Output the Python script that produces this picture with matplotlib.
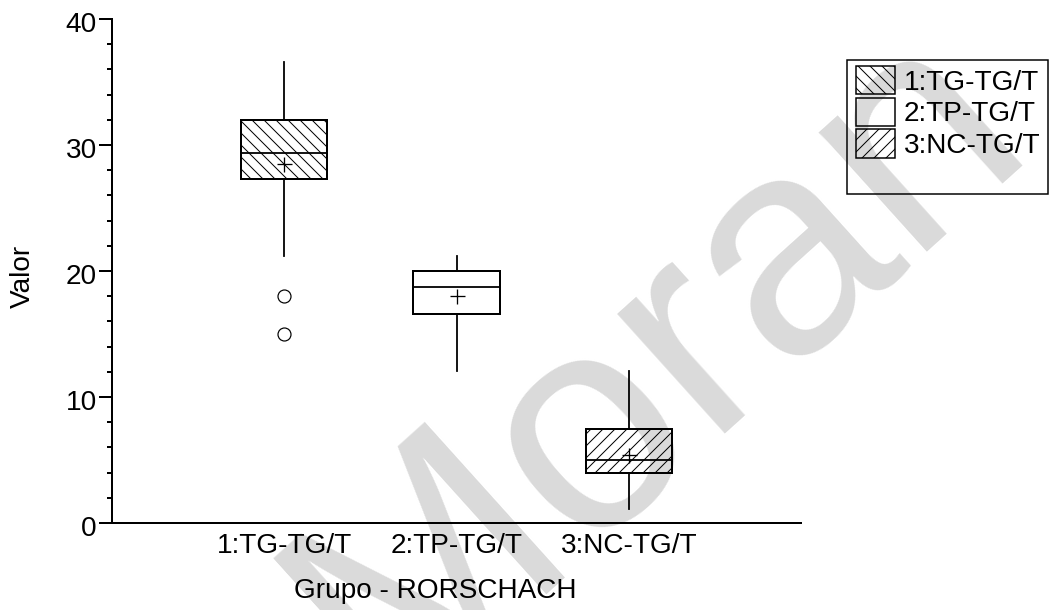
import matplotlib
matplotlib.use("Agg")
import matplotlib.pyplot as plt
from matplotlib.patches import Rectangle, Patch
from matplotlib.ticker import MultipleLocator, FixedLocator
from matplotlib.transforms import ScaledTranslation

# Summary statistics per group
groups = ["1:TG-TG/T", "2:TP-TG/T", "3:NC-TG/T"]
q1 = [27.3, 16.6, 4.0]
medians = [29.4, 18.7, 5.0]
q3 = [32.0, 20.0, 7.5]
whisker_low = [21.2, 12.1, 1.1]
whisker_high = [36.6, 21.2, 12.1]
means = [28.5, 18.0, 5.4]
outliers = [[18.0, 15.0], [], []]
hatches = ["\\\\", "", "//"]

plt.rcParams["font.family"] = ["Liberation Sans", "DejaVu Sans"]
plt.rcParams["hatch.linewidth"] = 1.0
plt.rcParams["hatch.color"] = "black"

DPI = 72
W, H = 1051, 610
fig = plt.figure(figsize=(W / DPI, H / DPI), dpi=DPI)
fig.patch.set_facecolor("white")


def fx(px):
    return px / W


def fy(py):
    return 1 - py / H


# Background watermark
fig.text(0.625, 0.40, "Moran", rotation=42, fontsize=305, color="#dadada",
         ha="center", va="center", rotation_mode="anchor", zorder=-5)

ax = fig.add_axes([fx(112), fy(523), fx(801) - fx(112), fy(19) - fy(523)])
ax.set_facecolor("none")

stats = [
    dict(label=g, q1=a, med=m, q3=b, whislo=lo, whishi=hi, mean=mu, fliers=fl)
    for g, a, m, b, lo, hi, mu, fl in zip(groups, q1, medians, q3,
                                          whisker_low, whisker_high, means, outliers)
]
bp = ax.bxp(
    stats, positions=[1, 2, 3], widths=0.5, showmeans=True, showcaps=False,
    patch_artist=True,
    boxprops=dict(facecolor="none", edgecolor="black", linewidth=2),
    whiskerprops=dict(color="black", linewidth=1.8),
    medianprops=dict(color="black", linewidth=1.8),
    meanprops=dict(marker="+", markersize=15, markeredgecolor="black",
                   markeredgewidth=1.3),
    flierprops=dict(marker="o", markersize=13, markerfacecolor="none",
                    markeredgecolor="black", markeredgewidth=1.2),
)
for box, h in zip(bp["boxes"], hatches):
    box.set_hatch(h)

ax.set_xlim(0, 4)
ax.set_ylim(0, 40)
ax.spines["top"].set_visible(False)
ax.spines["right"].set_visible(False)
for s in ("left", "bottom"):
    ax.spines[s].set_linewidth(2)

ax.xaxis.set_major_locator(FixedLocator([1, 2, 3]))
ax.set_xticklabels(groups)
ax.yaxis.set_major_locator(MultipleLocator(10))
ax.yaxis.set_minor_locator(MultipleLocator(2))
ax.tick_params(axis="x", length=0, labelsize=28, pad=10)
ax.tick_params(axis="y", which="major", length=13, width=2, labelsize=28, pad=2)
ax.tick_params(axis="y", which="minor", length=5, width=2)
shift_down = ScaledTranslation(0, -6 / DPI, fig.dpi_scale_trans)
for t in ax.yaxis.get_major_ticks():
    t.label1.set_verticalalignment("center")
    t.label1.set_transform(t.label1.get_transform() + shift_down)

ax.set_xlabel("Grupo - RORSCHACH", fontsize=28)
ax.xaxis.set_label_coords(0.469, -0.109)
ax.set_ylabel("Valor", fontsize=28)
ax.yaxis.label.set_verticalalignment("center")
ax.yaxis.set_label_coords(-0.129, 0.49)

# Legend
handles = [Patch(facecolor="none", edgecolor="black", hatch=h, linewidth=1.5)
           for h in hatches]
fig.legend(handles, groups, loc="upper left", bbox_to_anchor=(fx(856), fy(66)),
           frameon=False, fontsize=28, borderpad=0, borderaxespad=0,
           handlelength=1.39, handleheight=1.18, handletextpad=0.32,
           labelspacing=0.07)
fig.patches.append(Rectangle((fx(847), fy(194)), fx(1048) - fx(847),
                             fy(60) - fy(194), transform=fig.transFigure,
                             fill=False, edgecolor="black", linewidth=1.5))

fig.savefig("out.png", dpi=DPI)
